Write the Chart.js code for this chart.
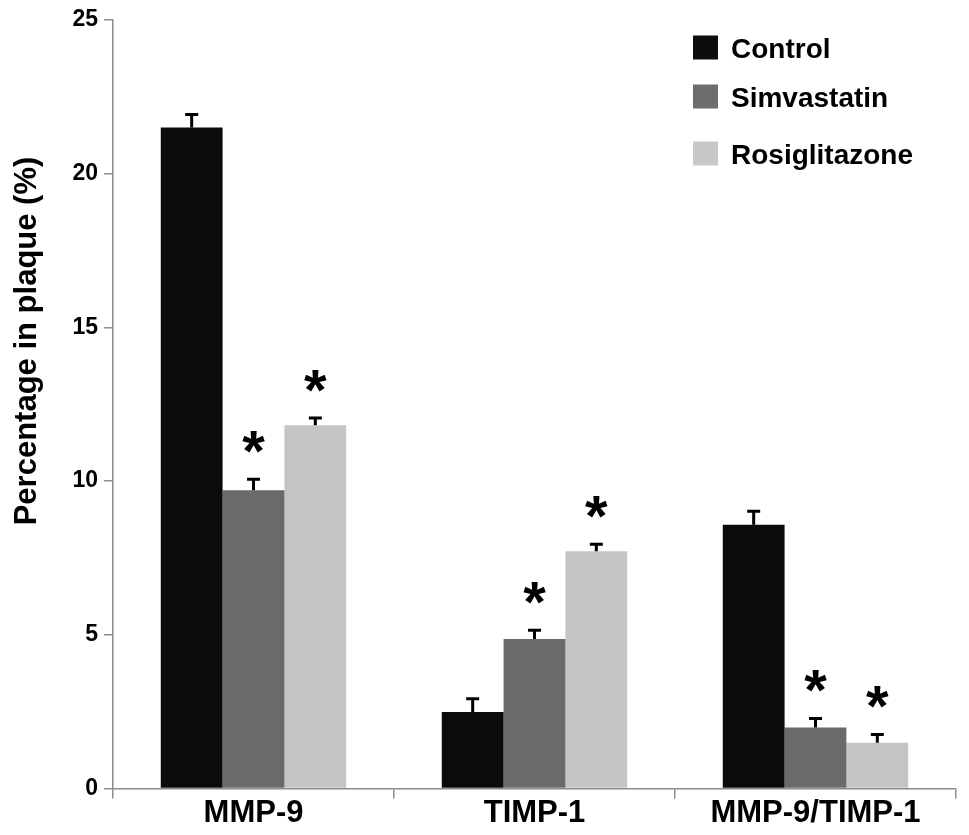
<!DOCTYPE html>
<html><head><meta charset="utf-8">
<script src="https://cdn.jsdelivr.net/npm/chart.js@4"></script>
<style>html,body{margin:0;padding:0;background:#fff;}#wrap{width:969px;height:835px;}</style>
</head><body><div id="wrap"><canvas id="c" width="969" height="835"></canvas></div>
<script>
const categories = ['MMP-9', 'TIMP-1', 'MMP-9/TIMP-1'];
const seriesNames = ['Control', 'Simvastatin', 'Rosiglitazone'];
const controlValues = [21.5, 2.49, 8.58];
const controlErrors = [0.42, 0.43, 0.44];
const simvastatinValues = [9.7, 4.86, 1.98];
const simvastatinErrors = [0.36, 0.29, 0.30];
const rosiglitazoneValues = [11.81, 7.72, 1.49];
const rosiglitazoneErrors = [0.24, 0.22, 0.27];
const controlSignificant = [false, false, false];
const simvastatinSignificant = [true, true, true];
const rosiglitazoneSignificant = [true, true, true];
const yTicks = [0, 5, 10, 15, 20, 25];
const yTitle = 'Percentage in plaque (%)';

const FONT = "'Liberation Sans', Arial, Helvetica, sans-serif";
const AXIS = '#8c8c8c';
const barColors = ['#0b0b0b', '#6a6a6a', '#c4c4c4'];
const legendColors = ['#0d0d0d', '#6d6d6d', '#c8c8c8'];
const errorSets = [controlErrors, simvastatinErrors, rosiglitazoneErrors];
const sigSets = [controlSignificant, simvastatinSignificant, rosiglitazoneSignificant];

const overlay = {
  id: 'overlay',
  afterDatasetsDraw(chart) {
    const ctx = chart.ctx;
    const ys = chart.scales.y;
    ctx.save();
    chart.data.datasets.forEach((ds, i) => {
      const meta = chart.getDatasetMeta(i);
      meta.data.forEach((bar, j) => {
        const top = ys.getPixelForValue(ds.data[j] + errorSets[i][j]);
        ctx.strokeStyle = '#000';
        ctx.lineWidth = 3;
        ctx.beginPath();
        ctx.moveTo(bar.x, bar.y);
        ctx.lineTo(bar.x, top);
        ctx.moveTo(bar.x - 6.5, top);
        ctx.lineTo(bar.x + 6.5, top);
        ctx.stroke();
        if (sigSets[i][j]) {
          ctx.fillStyle = '#000';
          ctx.font = 'bold 58px ' + FONT;
          ctx.textAlign = 'center';
          ctx.textBaseline = 'alphabetic';
          const m = ctx.measureText('*');
          const cy = top - 37;
          const base = cy + (m.actualBoundingBoxAscent - m.actualBoundingBoxDescent) / 2;
          ctx.fillText('*', bar.x, base);
        }
      });
    });
    // y axis title
    ctx.save();
    ctx.translate(27, 341);
    ctx.rotate(-Math.PI / 2);
    ctx.fillStyle = '#000';
    ctx.font = 'bold 31px ' + FONT;
    ctx.textAlign = 'center';
    ctx.textBaseline = 'middle';
    ctx.fillText(yTitle, 0, 0);
    ctx.restore();
    // legend
    const lx = 693, sq = 24, tx = 731;
    const baselines = [57.5, 106.5, 163.5];
    seriesNames.forEach((name, i) => {
      const cy = baselines[i] - 10;
      ctx.fillStyle = legendColors[i];
      ctx.fillRect(lx, cy - sq / 2, sq + 1, sq);
      ctx.fillStyle = '#000';
      ctx.font = 'bold 28px ' + FONT;
      ctx.textAlign = 'left';
      ctx.textBaseline = 'alphabetic';
      ctx.fillText(name, tx, baselines[i]);
    });
    ctx.restore();
  }
};

new Chart(document.getElementById('c'), {
  type: 'bar',
  data: {
    labels: categories,
    datasets: [
      { label: seriesNames[0], data: controlValues, backgroundColor: barColors[0] },
      { label: seriesNames[1], data: simvastatinValues, backgroundColor: barColors[1] },
      { label: seriesNames[2], data: rosiglitazoneValues, backgroundColor: barColors[2] }
    ]
  },
  options: {
    responsive: false,
    devicePixelRatio: 1,
    animation: false,
    datasets: { bar: { categoryPercentage: 0.66, barPercentage: 1.0, borderWidth: 0 } },
    layout: { padding: { top: 19, right: 13, left: 0, bottom: 0 } },
    plugins: { legend: { display: false }, tooltip: { enabled: false } },
    scales: {
      x: {
        offset: true,
        grid: { display: true, offset: true, drawOnChartArea: false, drawTicks: true, tickLength: 10, color: AXIS, lineWidth: 1.5 },
        border: { display: true, color: AXIS, width: 1.5 },
        ticks: { color: '#000', font: { family: FONT, size: 31, weight: 'bold' }, padding: -4, maxRotation: 0 },
        afterFit(scale) { scale.height = 46.5; }
      },
      y: {
        min: 0, max: 25,
        afterBuildTicks(scale) { scale.ticks = yTicks.map(v => ({ value: v })); },
        grid: { display: true, drawOnChartArea: false, drawTicks: true, tickLength: 9, color: AXIS, lineWidth: 1.5 },
        border: { display: true, color: AXIS, width: 1.5 },
        ticks: { color: '#000', font: { family: FONT, size: 23, weight: 'bold' }, padding: 6 },
        title: { display: false },
        afterFit(scale) { scale.width = 113; }
      }
    }
  },
  plugins: [overlay]
});
</script></body></html>
